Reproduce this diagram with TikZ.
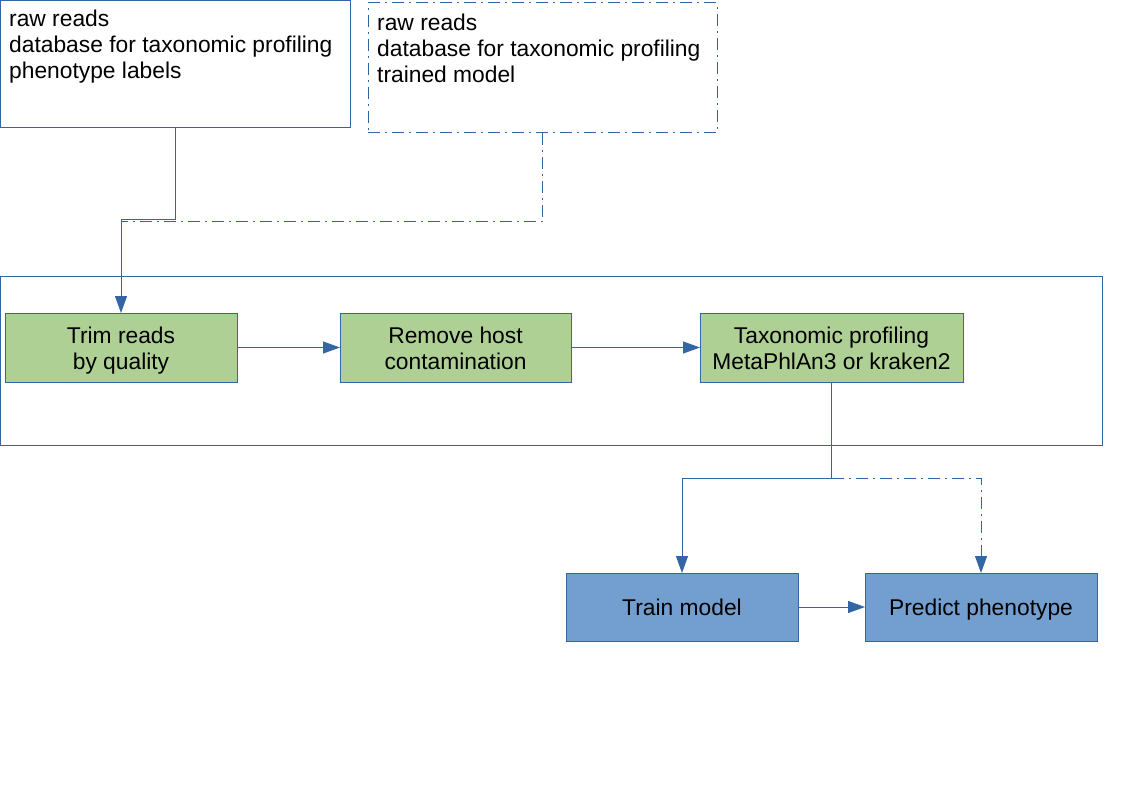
\documentclass[tikz,border=0pt]{standalone}
\usepackage{fontspec}
\setmainfont{Liberation Sans}
\usetikzlibrary{arrows.meta}
\definecolor{lineblue}{HTML}{3465A4}
\definecolor{greenfill}{HTML}{AFD095}
\definecolor{bluefill}{HTML}{729FCF}
\newcommand\mytopstrut{\rule{0pt}{25pt}}
\begin{document}
\begin{tikzpicture}[x=1pt,y=-1pt,
  txt/.style={font=\fontsize{22.8}{26}\selectfont},
  frame/.style={draw=lineblue, line width=1pt, anchor=north west, inner sep=0pt, outer sep=0pt},
  greenbox/.style={frame, fill=greenfill, align=center, txt, text=black},
  bluebox/.style={frame, fill=bluefill, align=center, txt, text=black},
  intext/.style={anchor=north west, inner sep=0pt, align=left, txt},
  conn/.style={draw=lineblue, line width=1pt},
  arr/.style={conn, -{Triangle[length=17pt,width=12pt]}},
  dashdot/.style={dash pattern=on 12pt off 5pt on 2pt off 5pt}]
\useasboundingbox (0,0) rectangle (1123,794);

% input boxes
\node[frame, minimum width=349.5pt, minimum height=127pt] (A) at (0.5,0.5) {};
\node[intext] (Atext) at (9,10) {raw reads\\database for taxonomic profiling\\phenotype labels};
\node[frame, dashdot, minimum width=349pt, minimum height=130pt] (B) at (368,3) {};
\node[intext] (Btext) at (377,14) {raw reads\\database for taxonomic profiling\\trained model};

% container
\node[frame, minimum width=1102pt, minimum height=169pt] (stage) at (0.5,276) {};

% process boxes
\node[greenbox, minimum width=232pt, minimum height=69pt] (Trim) at (5,313) {\mytopstrut Trim reads\\\strut by quality};
\node[greenbox, minimum width=231pt, minimum height=69pt] (Remove) at (340,313) {\mytopstrut Remove host\\\strut contamination};
\node[greenbox, minimum width=263pt, minimum height=69pt] (Tax) at (700,313) {\mytopstrut Taxonomic profiling\\\strut MetaPhlAn3 or kraken2};
\node[bluebox, minimum width=232pt, minimum height=68pt] (Train) at (566,573) {\mytopstrut\strut Train model};
\node[bluebox, minimum width=232pt, minimum height=68pt] (Predict) at (865,573) {\mytopstrut\strut Predict phenotype};

% connectors
\coordinate (m1) at (121,220);
\coordinate (m2) at (121,222);
\draw[arr] (A.south) |- (m1) -- (Trim.north);
\draw[conn, dashdot] (B.south) |- (m2);

\draw[arr] (Trim.east) -- (Remove.west);
\draw[arr] (Remove.east) -- (Tax.west);

\coordinate (s) at (831.5,478);
\draw[arr] (Tax.south) -- (s) -| (Train.north);
\draw[arr, dashdot] (s) -| (Predict.north);
\draw[arr] (Train.east) -- (Predict.west);
\end{tikzpicture}
\end{document}
